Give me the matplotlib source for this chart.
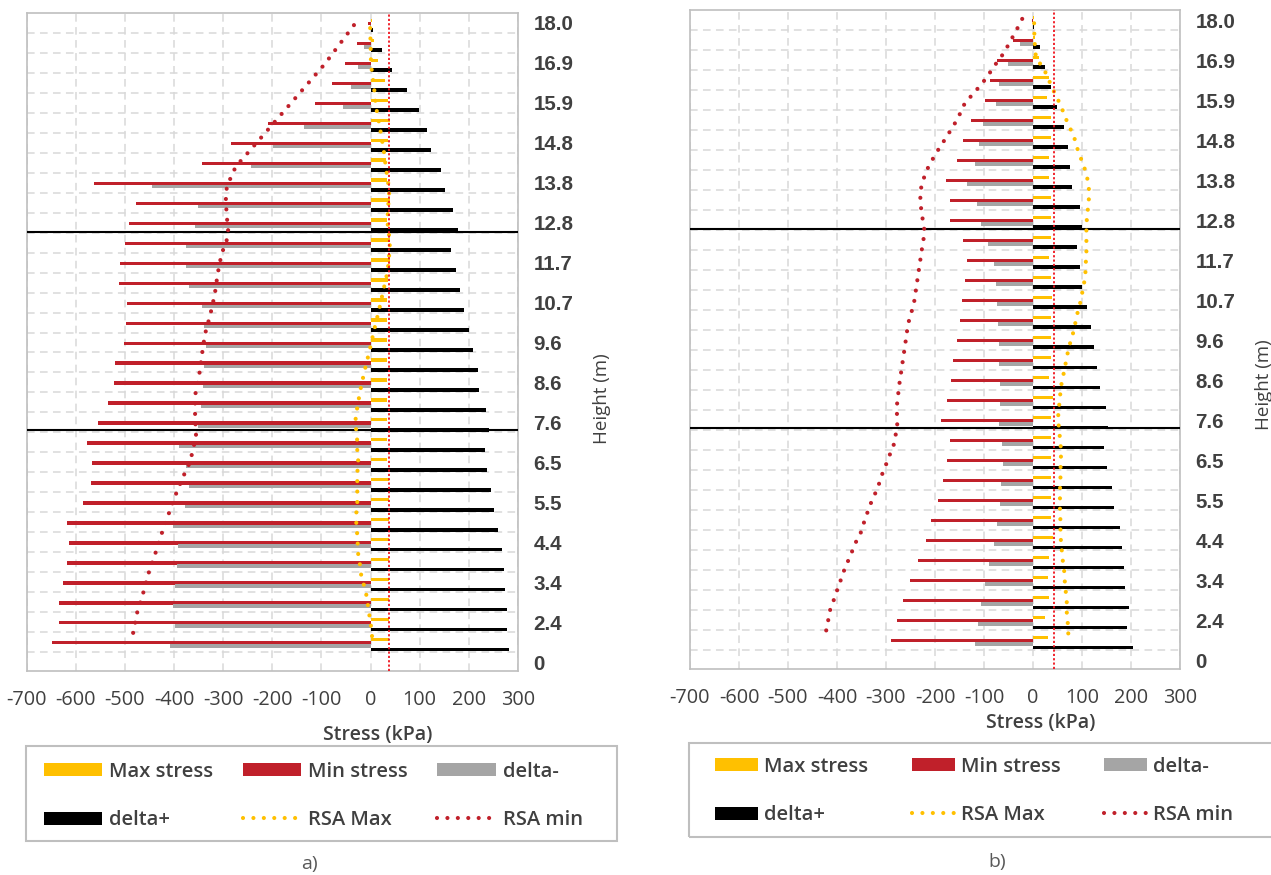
import matplotlib
matplotlib.use("Agg")
import matplotlib.pyplot as plt
import numpy as np
from matplotlib.patches import Patch, Rectangle
from matplotlib.lines import Line2D

plt.rcParams['font.family'] = ['Open Sans', 'DejaVu Sans']

# ---------------- data ----------------
heights = [0, 1.9, 2.4, 2.9, 3.4, 3.9, 4.4, 5.0, 5.5, 6.0, 6.5, 7.1, 7.6, 8.1, 8.6, 9.1,
           9.6, 10.2, 10.7, 11.2, 11.7, 12.3, 12.8, 13.3, 13.8, 14.3, 14.8, 15.4, 15.9,
           16.4, 16.9, 17.5, 18.0]
x_ticks = [-700, -600, -500, -400, -300, -200, -100, 0, 100, 200, 300]

# panel a) bars, rows 1..32 from bottom to top (kPa)
a_max = [38, 38, 38, 38, 38, 37, 37, 37, 37, 33, 33, 33, 33, 33, 33, 33, 33, 33, 35, 39,
         39, 33, 39, 33, 32, 35, 40, 35, 30, 16, 7, 3]
a_min = [-649, -633, -634, -626, -618, -614, -618, -586, -569, -567, -576, -554, -535, -522,
         -519, -502, -498, -496, -511, -510, -499, -492, -478, -562, -343, -283, -209, -114,
         -79, -53, -27, -5]
a_dminus = [-409, -398, -402, -397, -394, -391, -402, -377, -369, -375, -389, -351, -345, -341,
            -339, -335, -339, -343, -369, -375, -375, -357, -351, -444, -244, -198, -136, -57,
            -39, -25, -13, -2]
a_dplus = [281, 277, 277, 273, 271, 267, 259, 251, 245, 237, 233, 241, 235, 221, 218, 209,
           200, 190, 183, 174, 164, 178, 167, 152, 143, 124, 114, 98, 74, 44, 24, 5]

a_rsa_min_rows = [1.46, 2.46, 3.42, 4.42, 5.43, 6.43, 7.4, 8.35, 9.3, 9.8, 10.25, 11.3, 12.3,
                  13.35, 14.3, 15.4, 16.4, 17.4, 18.4, 19.45, 20.45, 20.95, 21.4, 22.46, 23.55,
                  24.5, 24.9, 26.08, 28.04, 29.95, 32.05]
a_rsa_min = [-483, -475, -463, -452, -438, -425, -411, -397, -381, -371, -365, -355, -357,
             -357, -349, -343, -337, -326, -317, -311, -303, -295, -289, -293, -295, -281,
             -271, -229, -160, -93, -29]
a_rsa_max_rows = [1.3, 1.77, 2.28, 2.78, 3.3, 3.8, 4.33, 4.8, 5.35, 6.35, 6.9, 7.45, 7.95,
                  8.95, 9.45, 10.05, 10.5, 11.05, 11.55, 12.05, 12.6, 13.6, 14.6, 15.6, 16.6,
                  17.6, 18.6, 19.6, 20.7, 21.2, 21.7, 22.7, 23.3, 23.8, 24.8, 25.8, 26.3, 26.8,
                  27.3, 27.8, 28.8, 29.9, 31.0, 32.0]
a_rsa_max = [3, 1, -2, -5, -8, -13, -19, -21, -25, -27, -29, -29, -27, -27, -27, -25, -27, -27,
             -29, -31, -28, -21, -12, -2, 7, 17, 26, 35, 39, 39, 35, 35, 38, 37, 31, 26, 22,
             19, 15, 11, 7, 1, 0, -1]
a_limit = 37

# panel b)
b_max = [31, 24, 33, 31, 33, 40, 37, 37, 37, 36, 36, 36, 41, 33, 36, 36, 36, 39, 36, 33,
         36, 36, 37, 32, 33, 36, 36, 28, 33, 12, 4, 2]
b_min = [-290, -278, -266, -251, -235, -219, -208, -193, -183, -175, -169, -188, -175, -167,
         -164, -156, -150, -145, -139, -134, -142, -169, -169, -177, -156, -142, -126, -97,
         -88, -73, -40, -2]
b_dminus = [-119, -113, -106, -98, -89, -80, -73, -68, -66, -62, -64, -70, -68, -68, -70, -70,
            -72, -74, -76, -80, -91, -107, -114, -134, -119, -110, -102, -76, -70, -52, -26, -1]
b_dplus = [204, 191, 195, 187, 185, 181, 177, 166, 161, 151, 145, 154, 149, 137, 131, 125,
           119, 111, 99, 95, 89, 101, 95, 80, 76, 72, 64, 49, 36, 25, 14, 3]

b_rsa_min_rows = [1.48, 1.98, 2.5, 2.97, 3.47, 3.95, 4.45, 4.92, 5.38, 5.87, 6.33, 6.8, 7.3,
                  7.78, 8.27, 8.75, 9.22, 9.7, 10.17, 10.67, 11.67, 12.67, 13.75, 14.75, 15.75,
                  16.8, 17.83, 18.83, 19.83, 20.83, 21.37, 21.9, 22.4, 22.9, 23.37, 23.9, 24.4,
                  25.3, 26.17, 27.05, 27.9, 28.3, 28.75, 29.13, 29.6, 30.0, 30.4, 30.87, 31.3,
                  31.67, 32.25]
b_rsa_min = [-422, -418, -414, -407, -400, -393, -386, -378, -370, -362, -352, -346, -339,
             -332, -323, -315, -309, -301, -294, -285, -277, -278, -273, -267, -261, -255,
             -243, -237, -231, -225, -221, -224, -228, -229, -231, -225, -219, -199, -176,
             -154, -138, -122, -107, -94, -82, -70, -58, -48, -38, -30, -18]
b_rsa_max_rows = [1.33, 1.83, 2.33, 2.87, 3.38, 3.88, 4.38, 4.92, 5.42, 5.92, 6.45, 6.95,
                  7.47, 8.0, 8.5, 9.0, 9.5, 10.03, 10.55, 11.08, 11.58, 12.08, 12.63, 13.13,
                  13.67, 14.13, 14.63, 15.13, 15.63, 16.17, 16.67, 17.2, 17.7, 18.17, 18.7,
                  19.2, 19.7, 20.2, 20.7, 21.25, 21.8, 22.3, 22.8, 23.3, 23.8, 24.3, 24.75,
                  25.25, 25.75, 26.25, 26.7, 27.2, 27.7, 28.17, 28.7, 29.1, 29.6, 30.1, 31.0,
                  32.2]
b_rsa_max = [72, 71, 69, 69, 67, 65, 64, 61, 59, 57, 56, 56, 55, 55, 55, 56, 56, 57, 57, 55,
             53, 51, 53, 55, 57, 61, 65, 69, 73, 80, 85, 89, 95, 99, 103, 107, 107, 109, 109,
             109, 109, 111, 113, 115, 113, 109, 103, 95, 88, 83, 73, 65, 57, 48, 37, 31, 21,
             6, 3, 2]
b_limit = 42

level_rows = [11.6, 21.55]   # storey separation lines (row units)

legend_labels = ['Max stress', 'Min stress', 'delta-', 'delta+', 'RSA Max', 'RSA min']

# ---------------- style ----------------
YEL = '#FFC000'
RED = '#C0202A'
GRAY = '#A5A5A5'
BLK = '#000000'
TXT = '#404040'
GRID = '#D9D9D9'

W, H = 1271, 875
fig = plt.figure(figsize=(W / 100, H / 100), dpi=100)


def axes_px(l, t, r, b):
    return fig.add_axes([l / W, 1 - b / H, (r - l) / W, (b - t) / H])


DOT = dict(lw=3.0, ls=(0, (0.001, 2.5)), dash_capstyle='round', solid_capstyle='round')


def draw(ax, mx, mn, dm, dp, rmax_rows, rmax, rmin_rows, rmin, limit):
    rows = np.arange(1, len(mx) + 1)
    h = 0.17
    ax.barh(rows + 0.13, mx, height=h, color=YEL, zorder=2)
    ax.barh(rows - 0.035, mn, height=h, color=RED, zorder=2)
    ax.barh(rows - 0.20, dm, height=h, color=GRAY, zorder=2)
    ax.barh(rows - 0.37, dp, height=0.19, color=BLK, zorder=2)
    for r in level_rows:
        ax.axhline(r, color='black', lw=1.5, zorder=3)
    ax.plot(rmax, rmax_rows, color=YEL, zorder=4, **DOT)
    ax.plot(rmin, rmin_rows, color=RED, zorder=4, **DOT)
    ax.axvline(limit, color='#F0141E', lw=1.3, ls=(0, (1.2, 1.2)), zorder=5)

    ax.set_xlim(-700, 300)
    ax.set_ylim(-0.45, 32.5)
    ax.set_xticks(x_ticks)
    ax.set_xticklabels([str(v) for v in x_ticks],
                       family=['Liberation Sans Narrow', 'Open Sans'], fontsize=14.3, color=TXT)
    ax.tick_params(axis='x', length=0, pad=14)
    ax.yaxis.tick_right()
    ax.set_yticks(range(0, len(heights), 2))
    ax.set_yticklabels(['0' if v == 0 else f'{v:.1f}' for v in heights[::2]],
                       family=['Liberation Sans', 'DejaVu Sans'], fontweight='bold',
                       fontsize=14.8, color=TXT)
    ax.set_yticks(np.arange(0.5, len(heights) - 1, 1.0), minor=True)
    ax.tick_params(axis='y', which='both', length=0, pad=11)
    ax.grid(axis='x', which='major', color=GRID, lw=1.1, ls=(0, (5, 3.5)), zorder=0)
    ax.grid(axis='y', which='minor', color=GRID, lw=1.1, ls=(0, (5, 3.5)), zorder=0)
    ax.set_axisbelow(True)
    for s in ax.spines.values():
        s.set_color('#BFBFBF')
        s.set_linewidth(1.2)


def legend(ax, x_left, y_top, hl, tpad, cspace, box):
    handles = {
        'Max stress': Patch(facecolor=YEL, edgecolor='none'),
        'Min stress': Patch(facecolor=RED, edgecolor='none'),
        'delta-': Patch(facecolor=GRAY, edgecolor='none'),
        'delta+': Patch(facecolor=BLK, edgecolor='none'),
        'RSA Max': Line2D([], [], color=YEL, **DOT),
        'RSA min': Line2D([], [], color=RED, **DOT),
    }
    order = [legend_labels[i] for i in (0, 3, 1, 4, 2, 5)]
    leg = ax.legend([handles[k] for k in order], order, ncol=3, frameon=False,
                    loc='upper left', bbox_to_anchor=(x_left / W, 1 - y_top / H),
                    bbox_transform=fig.transFigure, borderpad=0, borderaxespad=0,
                    handlelength=hl, handleheight=0.62, handletextpad=tpad,
                    columnspacing=cspace, labelspacing=1.4,
                    prop=dict(family=['Open Sans', 'DejaVu Sans'], weight='semibold', size=14.5))
    for t in leg.get_texts():
        t.set_color(TXT)
    l, t, r, b = box
    fig.add_artist(Rectangle((l / W, 1 - b / H), (r - l) / W, (b - t) / H,
                             transform=fig.transFigure, fill=False,
                             edgecolor='#BFBFBF', lw=1.5))


axa = axes_px(26.5, 13, 518, 671)
draw(axa, a_max, a_min, a_dminus, a_dplus, a_rsa_max_rows, a_rsa_max,
     a_rsa_min_rows, a_rsa_min, a_limit)
axb = axes_px(690, 10, 1180, 669)
draw(axb, b_max, b_min, b_dminus, b_dplus, b_rsa_max_rows, b_rsa_max,
     b_rsa_min_rows, b_rsa_min, b_limit)

# axis titles
fig.text(378 / W, 1 - 735 / H, 'Stress (kPa)', ha='center', va='center',
         fontsize=14, fontweight='semibold', color=TXT)
fig.text(1041 / W, 1 - 723 / H, 'Stress (kPa)', ha='center', va='center',
         fontsize=14, fontweight='semibold', color=TXT)
fig.text(602 / W, 1 - 399 / H, 'Height (m)', ha='center', va='center', rotation=90,
         fontsize=13.5, color=TXT)
fig.text(1264 / W, 1 - 385 / H, 'Height (m)', ha='center', va='center', rotation=90,
         fontsize=13.5, color=TXT)

legend(axa, 44, 762, 2.9, 0.35, 1.45, (26, 746, 617, 841))
legend(axb, 715, 757, 2.15, 0.3, 2.15, (689, 743, 1292, 837))

fig.text(309 / W, 1 - 864 / H, 'a)', ha='center', va='center', fontsize=14, color='#595959')
fig.text(997 / W, 1 - 862 / H, 'b)', ha='center', va='center', fontsize=14, color='#595959')

fig.savefig('out.png', dpi=100)
